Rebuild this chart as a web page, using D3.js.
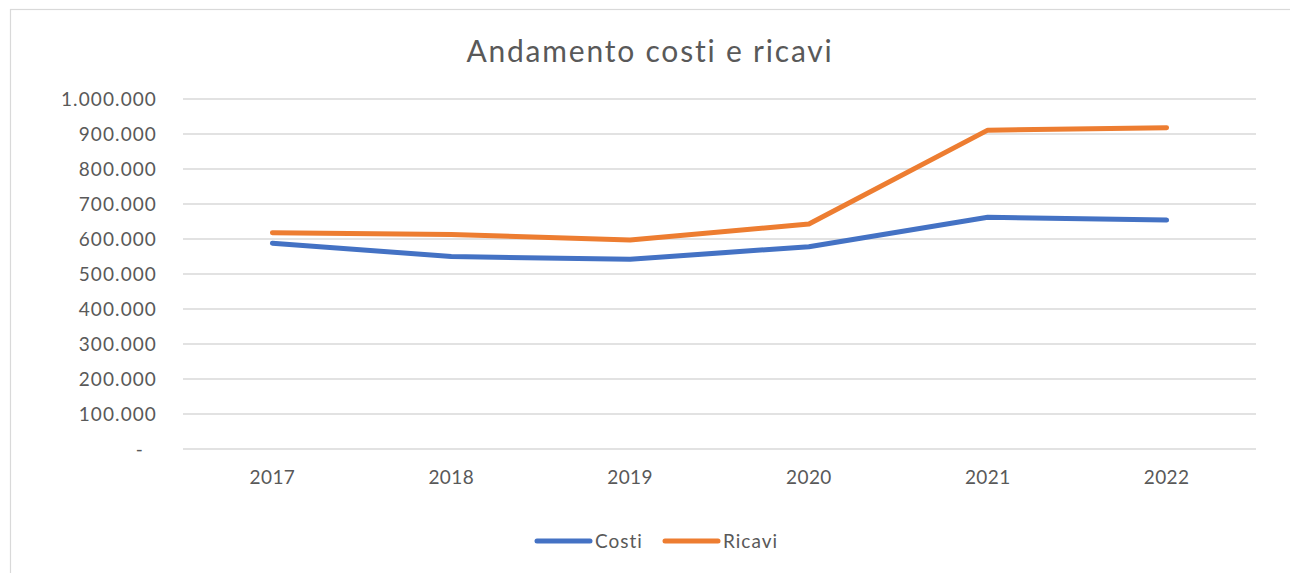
<!DOCTYPE html>
<html>
<head>
<meta charset="utf-8">
<script src="https://cdn.jsdelivr.net/npm/d3@7"></script>
<style>
  html, body { margin: 0; padding: 0; background: #ffffff; }
  svg { display: block; }
</style>
</head>
<body>
<svg id="chart" width="1290" height="573"></svg>
<script>
const years = ["2017", "2018", "2019", "2020", "2021", "2022"];
const costi = [588000, 550000, 542000, 578000, 662000, 654000];
const ricavi = [618000, 613000, 597000, 643000, 911000, 918000];
const yTicks = [0, 100000, 200000, 300000, 400000, 500000, 600000, 700000, 800000, 900000, 1000000];
const seriesNames = ["Costi", "Ricavi"];
const seriesColors = ["#4472C4", "#ED7D31"];
const titleText = "Andamento costi e ricavi";

(function () {
const FONT = "Lato, 'Open Sans', 'Noto Sans', sans-serif";
const svg = d3.select("#chart");

// chart border
svg.append("rect")
  .attr("x", 10.5).attr("y", 9.5)
  .attr("width", 1300).attr("height", 600)
  .attr("fill", "none").attr("stroke", "#d9d9d9").attr("stroke-width", 1.2);

const pLeft = 183, pRight = 1256, pTop = 99, pBottom = 449;

const x = d3.scaleBand().domain(years).range([pLeft, pRight]).padding(0);
const y = d3.scaleLinear().domain([0, 1000000]).range([pBottom, pTop]);

const fmt = v => v === 0 ? "-" : d3.format(",")(v).replace(/,/g, ".");

// gridlines
svg.append("g")
  .selectAll("line")
  .data(yTicks)
  .join("line")
  .attr("x1", pLeft).attr("x2", pRight)
  .attr("y1", d => y(d)).attr("y2", d => y(d))
  .attr("stroke", "#d9d9d9").attr("stroke-width", 1.5);

// y axis
const yAxis = svg.append("g")
  .attr("transform", `translate(${pLeft},0)`)
  .call(d3.axisLeft(y).tickValues(yTicks).tickFormat(fmt).tickSize(0).tickPadding(26));
yAxis.select(".domain").remove();
yAxis.selectAll("text")
  .attr("font-family", FONT).attr("font-size", 19).attr("fill", "#595959")
  .attr("letter-spacing", 1.1)
  .attr("dx", d => d === 0 ? -13 : 0);

// x axis
const xAxis = svg.append("g")
  .attr("transform", `translate(0,${pBottom})`)
  .call(d3.axisBottom(x).tickSize(0).tickPadding(22));
xAxis.select(".domain").remove();
xAxis.selectAll("text")
  .attr("font-family", FONT).attr("font-size", 19).attr("fill", "#595959")
  .attr("letter-spacing", 0.4);

// lines
const line = d3.line()
  .x((d, i) => x(years[i]) + x.bandwidth() / 2)
  .y(d => y(d));

[costi, ricavi].forEach((s, k) => {
  svg.append("path")
    .datum(s)
    .attr("d", line)
    .attr("fill", "none")
    .attr("stroke", seriesColors[k])
    .attr("stroke-width", 5)
    .attr("stroke-linecap", "round")
    .attr("stroke-linejoin", "round");
});

// title
svg.append("text")
  .attr("x", 650).attr("y", 62)
  .attr("text-anchor", "middle")
  .attr("font-family", FONT).attr("font-size", 30)
  .attr("letter-spacing", 1.8)
  .attr("fill", "#595959")
  .text(titleText);

// legend
const legendX = [537, 665];
const legend = svg.append("g");
seriesNames.forEach((name, k) => {
  legend.append("line")
    .attr("x1", legendX[k]).attr("x2", legendX[k] + 53)
    .attr("y1", 541).attr("y2", 541)
    .attr("stroke", seriesColors[k]).attr("stroke-width", 5)
    .attr("stroke-linecap", "round");
  legend.append("text")
    .attr("x", legendX[k] + 58).attr("y", 548)
    .attr("font-family", FONT).attr("font-size", 19)
    .attr("letter-spacing", 1)
    .attr("fill", "#595959")
    .text(name);
});
})();
</script>
</body>
</html>
